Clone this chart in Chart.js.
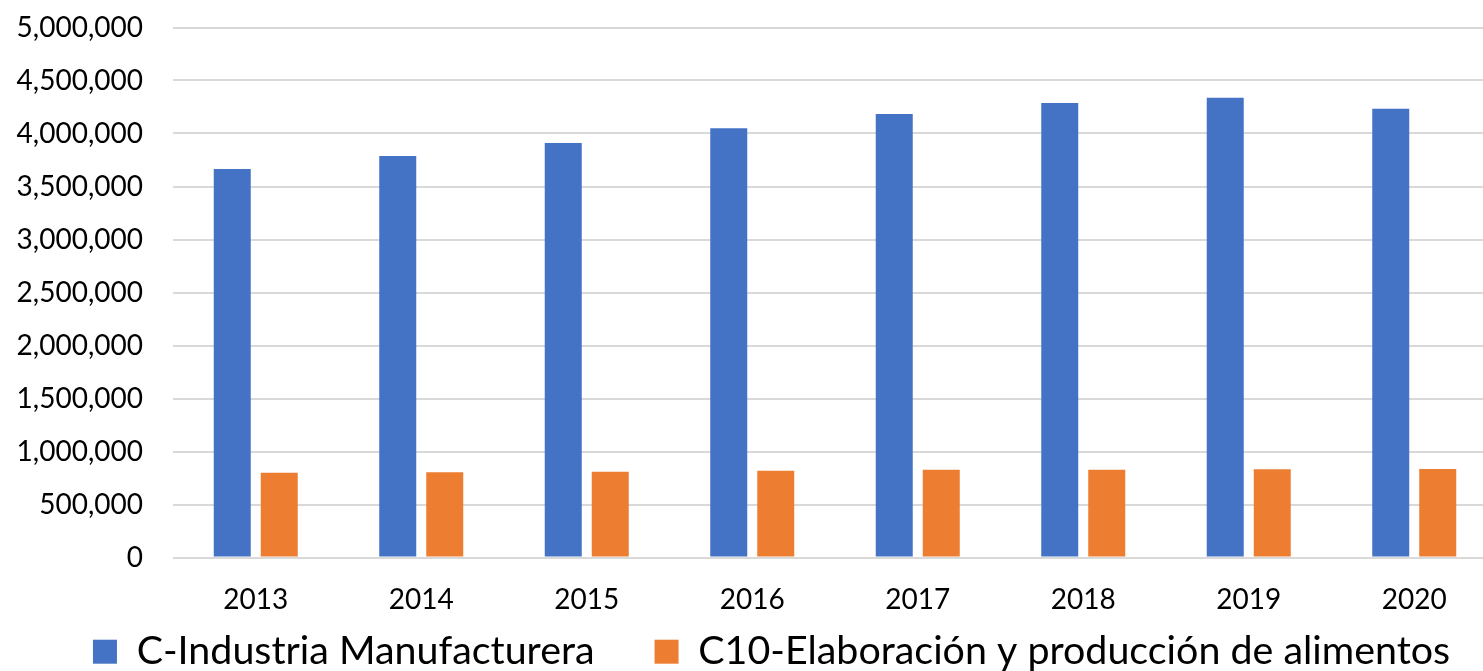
<!DOCTYPE html>
<html>
<head>
<meta charset="utf-8">
<script src="https://cdn.jsdelivr.net/npm/chart.js@4/dist/chart.umd.min.js"></script>
<style>
  html, body { margin: 0; padding: 0; background: #fff; overflow: hidden; }
  #wrap { width: 1483px; height: 671px; overflow: hidden; }
</style>
</head>
<body>
<div id="wrap"><canvas id="g1" width="1497" height="671"></canvas></div>
<script>
// datos
var anios = ['2013', '2014', '2015', '2016', '2017', '2018', '2019', '2020'];
var manufacturera = [3665000, 3788000, 3910000, 4049000, 4184000, 4288000, 4338000, 4234000];
var alimentos = [800000, 804000, 810000, 819000, 827000, 827000, 833000, 836000];
var ticksY = [0, 500000, 1000000, 1500000, 2000000, 2500000, 3000000, 3500000, 4000000, 4500000, 5000000];

var fuente = 'Lato, "Open Sans", sans-serif';

var ctx_1 = document.getElementById('g1');

// acomoda la leyenda como en el original (un poco a la derecha y mas arriba)
var moverLeyenda = {
    id: 'moverLeyenda',
    afterLayout: function(chart) {
        var lg = chart.legend;
        lg.left += 23;
        lg.right += 23;
        lg.top = 572;
        lg.bottom = chart.height;
    }
};

var myChart = new Chart(ctx_1, {
    type: 'bar',
    data: {
        labels: anios,
        datasets: [{
            label: 'C-Industria Manufacturera',
            data: manufacturera,
            backgroundColor: '#4472C4',
            categoryPercentage: 0.568,
            barPercentage: 0.787
        }, {
            label: 'C10-Elaboración y producción de alimentos',
            data: alimentos,
            backgroundColor: '#ED7D31',
            categoryPercentage: 0.568,
            barPercentage: 0.787
        }]
    },
    options: {
        responsive: false,
        animation: false,
        layout: { padding: { top: 27.5, left: 0, right: 0, bottom: 0 } },
        plugins: {
            legend: {
                position: 'bottom',
                maxHeight: 51.5,
                labels: {
                    font: { family: fuente, size: 39.4 },
                    color: '#000',
                    boxWidth: 24,
                    boxHeight: 24,
                    padding: 60
                }
            },
            tooltip: { enabled: false }
        },
        scales: {
            x: {
                grid: { display: false },
                border: { display: false },
                afterFit: function(s) { s.height = 62; },
                ticks: {
                    font: { family: fuente, size: 28 },
                    color: '#000',
                    padding: 18
                }
            },
            y: {
                min: 0,
                max: 5000000,
                afterBuildTicks: function(s) {
                    s.ticks = ticksY.map(function(v) { return { value: v }; });
                },
                afterFit: function(s) {
                    s.width = 173;
                    s.paddingTop = 0;
                    s.paddingBottom = 0;
                },
                grid: { color: '#d9d9d9', lineWidth: 2, drawTicks: false },
                border: { display: false },
                ticks: {
                    font: { family: fuente, size: 28 },
                    color: '#000',
                    padding: 30,
                    callback: function(v) { return Number(v).toLocaleString('en-US'); }
                }
            }
        }
    },
    plugins: [moverLeyenda]
});
</script>
</body>
</html>
